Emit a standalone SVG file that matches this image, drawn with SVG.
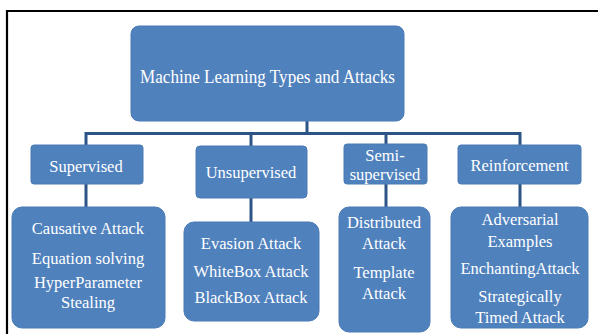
<svg xmlns="http://www.w3.org/2000/svg" width="598" height="334" viewBox="0 0 598 334">
<style>
.box{fill:#4f81bd;stroke:#4a7bb5;stroke-width:1}
.t{font-family:"Liberation Serif","DejaVu Serif",serif;fill:#ffffff;text-anchor:middle;dominant-baseline:central}
.m{font-size:16.5px}
.s{font-size:16.5px}
.c{stroke:#2c5485;stroke-width:3;fill:none}
</style>
<rect width="598" height="334" fill="#ffffff"/>
<path d="M7 334 V11 H598" stroke="#000" stroke-width="2.2" fill="none"/>
<g id="connectors">
<path class="c" d="M307 121 V134 M86 145 V133.5 H520 V145 M251 134 V146 M386 134 V144"/>
<path class="c" d="M86 184 V207 M251 198 V222 M386 184 V207 M520 184 V207"/>
</g>
<g id="root">
<rect class="box" x="131" y="26" width="273" height="95" rx="8"/>
<text class="t" x="267.5" y="76" font-size="19" textLength="255" lengthAdjust="spacingAndGlyphs">Machine Learning Types and Attacks</text>
</g>
<g id="supervised">
<rect class="box" x="31" y="145" width="112" height="39" rx="3"/>
<text class="t m" x="86" y="166">Supervised</text>
</g>
<g id="unsupervised">
<rect class="box" x="196" y="146" width="111" height="52" rx="4"/>
<text class="t m" x="251" y="172">Unsupervised</text>
</g>
<g id="semi">
<rect class="box" x="344" y="144" width="83" height="40" rx="3"/>
<text class="t m" x="385" y="155">Semi-</text>
<text class="t m" x="385" y="174">supervised</text>
</g>
<g id="reinforcement">
<rect class="box" x="458" y="145" width="123" height="39" rx="3"/>
<text class="t m" x="519.5" y="165">Reinforcement</text>
</g>
<g id="supervised-attacks">
<rect class="box" x="12" y="207" width="153" height="121" rx="10"/>
<text class="t s" x="88" y="228">Causative Attack</text>
<text class="t s" x="88" y="258">Equation solving</text>
<text class="t s" x="88" y="282">HyperParameter</text>
<text class="t s" x="88" y="302">Stealing</text>
</g>
<g id="unsupervised-attacks">
<rect class="box" x="184" y="222" width="135" height="99" rx="10"/>
<text class="t s" x="251" y="243">Evasion Attack</text>
<text class="t s" x="251" y="271">WhiteBox Attack</text>
<text class="t s" x="251" y="297">BlackBox Attack</text>
</g>
<g id="semi-attacks">
<rect class="box" x="339" y="207" width="91" height="125" rx="10"/>
<text class="t s" x="384" y="222">Distributed</text>
<text class="t s" x="384" y="243">Attack</text>
<text class="t s" x="384" y="272">Template</text>
<text class="t s" x="384" y="293">Attack</text>
</g>
<g id="reinforcement-attacks">
<rect class="box" x="451" y="207" width="137" height="121" rx="10"/>
<text class="t s" x="520" y="219">Adversarial</text>
<text class="t s" x="520" y="241">Examples</text>
<text class="t s" x="520" y="268">EnchantingAttack</text>
<text class="t s" x="520" y="296">Strategically</text>
<text class="t s" x="520" y="317">Timed Attack</text>
</g>
</svg>
